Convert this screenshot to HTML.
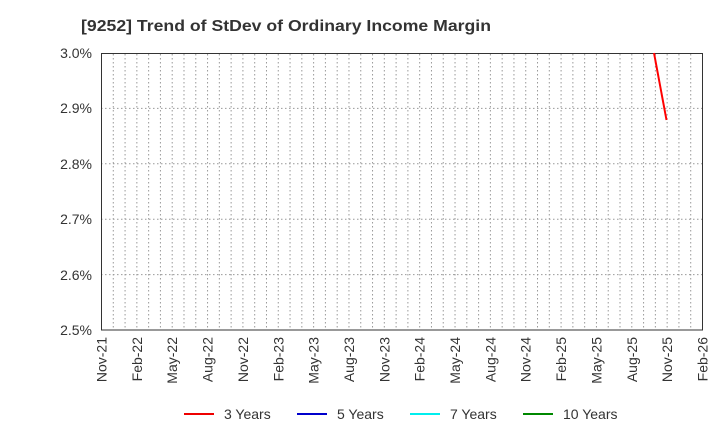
<!DOCTYPE html>
<html><head><style>body{margin:0;background:#fff}svg{display:block;font-family:"Liberation Sans",sans-serif}</style></head>
<body>
<svg width="720" height="440" xmlns="http://www.w3.org/2000/svg">
<text x="81" y="31" font-size="16" font-weight="bold" fill="#333" textLength="410" lengthAdjust="spacingAndGlyphs">[9252]  Trend of StDev of Ordinary Income Margin</text>
<g id="grid" stroke="#999" stroke-width="1" stroke-dasharray="1.5,2.5">
<line x1="101" y1="108.4" x2="702" y2="108.4"/>
<line x1="101" y1="163.8" x2="702" y2="163.8"/>
<line x1="101" y1="219.2" x2="702" y2="219.2"/>
<line x1="101" y1="274.6" x2="702" y2="274.6"/>
</g>
<g id="vg" stroke="#999" stroke-width="1" stroke-dasharray="1.5,2.5"></g>
<rect x="101.5" y="53.5" width="601" height="276.5" fill="none" stroke="#333" stroke-width="1"/>
<g font-size="14" fill="#333" text-anchor="end">
<text x="92" y="58">3.0%</text>
<text x="92" y="113">2.9%</text>
<text x="92" y="169">2.8%</text>
<text x="92" y="224">2.7%</text>
<text x="92" y="280">2.6%</text>
<text x="92" y="335">2.5%</text>
</g>
<g id="xl" font-size="14" fill="#333" text-anchor="end"></g>
<polyline points="654,53 666.5,120" fill="none" stroke="#f00" stroke-width="2"/>
<g font-size="14" fill="#333">
<line x1="184" y1="414" x2="214" y2="414" stroke="#e00" stroke-width="2"/><text x="224" y="419">3 Years</text>
<line x1="297" y1="414" x2="327" y2="414" stroke="#00c" stroke-width="2"/><text x="337" y="419">5 Years</text>
<line x1="410" y1="414" x2="440" y2="414" stroke="#0ee" stroke-width="2"/><text x="450" y="419">7 Years</text>
<line x1="523" y1="414" x2="553" y2="414" stroke="#080" stroke-width="2"/><text x="563" y="419">10 Years</text>
</g>
</svg>
<script>
var ns="http://www.w3.org/2000/svg",vg=document.getElementById("vg"),xl=document.getElementById("xl");
var step=601/51;
for(var i=1;i<51;i++){var x=101.5+i*step;var l=document.createElementNS(ns,"line");l.setAttribute("x1",x);l.setAttribute("x2",x);l.setAttribute("y1",54);l.setAttribute("y2",330);vg.appendChild(l);}
var labs=["Nov-21","Feb-22","May-22","Aug-22","Nov-22","Feb-23","May-23","Aug-23","Nov-23","Feb-24","May-24","Aug-24","Nov-24","Feb-25","May-25","Aug-25","Nov-25","Feb-26"];
labs.forEach(function(s,k){var x=101.5+k*3*step+5;var t=document.createElementNS(ns,"text");t.setAttribute("transform","translate("+x+",337) rotate(-90)");t.textContent=s;xl.appendChild(t);});
</script>
</body></html>
